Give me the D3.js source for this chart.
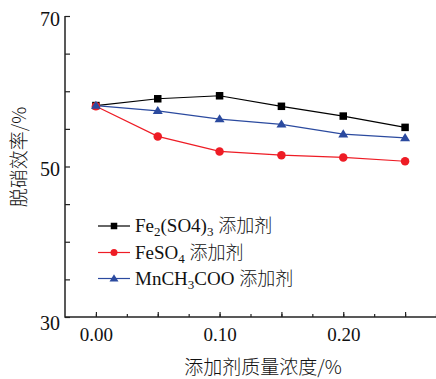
<!DOCTYPE html>
<html><head><meta charset="utf-8">
<script src="https://cdn.jsdelivr.net/npm/d3@7"></script>
<style>
body{margin:0;background:#fff;}
svg{display:block;font-family:"Liberation Serif","Times New Roman","Noto Sans CJK SC",serif;}
.cjk{font-family:"Noto Sans CJK SC",sans-serif;font-weight:300;}
</style></head>
<body><svg id="c" width="436" height="379"></svg>
<script>
const xValues = [0, 0.05, 0.10, 0.15, 0.20, 0.25];
const fe2so43 = [58.1, 59.0, 59.4, 58.0, 56.7, 55.2];
const feso4   = [58.0, 54.0, 52.0, 51.5, 51.2, 50.7];
const mnch3coo= [58.1, 57.4, 56.3, 55.6, 54.3, 53.8];
const xTickLabels = [0, 0.10, 0.20];
const yTickLabels = [30, 50, 70];
const xTitle = "添加剂质量浓度/%";
const yTitle = "脱硝效率/%";

const svg = d3.select("#c");
const x = d3.scaleLinear().domain([-0.025, 0.275]).range([65, 436]);
const y = d3.scaleLinear().domain([30, 70]).range([317, 16]);
const axisColor = "#222";

// x minor ticks
const xMinor = svg.append("g").attr("transform", "translate(0,317)")
  .call(d3.axisBottom(x).tickValues(d3.range(0, 0.2751, 0.025)).tickSize(-3).tickFormat(""));
const xMajor = svg.append("g").attr("transform", "translate(0,317)")
  .call(d3.axisBottom(x).tickValues(d3.range(0, 0.2501, 0.05)).tickSize(-5).tickPadding(11)
    .tickFormat(d => xTickLabels.some(v => Math.abs(v - d) < 1e-9) ? d3.format(".2f")(d) : ""));
[xMinor, xMajor].forEach(g => {
  g.select(".domain").remove();
  g.selectAll("line").attr("stroke", axisColor).attr("stroke-width", 1.2);
});
xMajor.selectAll("text").attr("font-size", 19).attr("fill", "#111")
  .attr("font-family", "Liberation Serif");

// y ticks
const yAx = svg.append("g").attr("transform", "translate(65,0)")
  .call(d3.axisLeft(y).tickValues(d3.range(30, 70.1, 5)).tickSize(-5).tickPadding(5)
    .tickFormat(d => yTickLabels.includes(d) ? d : ""));
yAx.select(".domain").remove();
yAx.selectAll("line").attr("stroke", axisColor).attr("stroke-width", 1.2);
yAx.selectAll("text").attr("font-size", 20).attr("fill", "#111")
  .attr("dy", d => d === 30 ? "0.6em" : "0.45em")
  .attr("font-family", "Liberation Serif");

// axis lines
svg.append("line").attr("x1", 65).attr("x2", 65).attr("y1", y(70)).attr("y2", y(30) + 0.7)
  .attr("stroke", axisColor).attr("stroke-width", 1.5);
svg.append("line").attr("x1", 65).attr("x2", 436).attr("y1", y(30)).attr("y2", y(30))
  .attr("stroke", axisColor).attr("stroke-width", 1.5);

// titles
svg.append("text").attr("class", "cjk").attr("x", 263).attr("y", 374).attr("text-anchor", "middle")
  .attr("font-size", 19).attr("fill", "#111").text(xTitle);
svg.append("text").attr("class", "cjk").attr("transform", "translate(26,157) rotate(-90)").attr("text-anchor", "middle")
  .attr("font-size", 19).attr("fill", "#111").text(yTitle);

const series = [
  {vals: fe2so43, color: "#000000", shape: "square"},
  {vals: feso4, color: "#ee1c25", shape: "circle"},
  {vals: mnch3coo, color: "#2b4a9f", shape: "triangle"}
];
const line = d3.line().x((d, i) => x(xValues[i])).y(d => y(d));

function marker(g, shape, cx, cy, s, color) {
  if (shape === "square") {
    g.append("rect").attr("x", cx - s / 2).attr("y", cy - s / 2).attr("width", s).attr("height", s).attr("fill", color);
  } else if (shape === "circle") {
    g.append("circle").attr("cx", cx).attr("cy", cy).attr("r", s / 2).attr("fill", color);
  } else {
    const h = s * 0.9;
    g.append("path").attr("d", `M${cx},${cy - h * 0.6} L${cx + s / 2 + 0.5},${cy + h * 0.4} L${cx - s / 2 - 0.5},${cy + h * 0.4} Z`).attr("fill", color);
  }
}

series.forEach(s => {
  svg.append("path").attr("d", line(s.vals)).attr("fill", "none").attr("stroke", s.color).attr("stroke-width", 1.2);
});
series.forEach(s => {
  const g = svg.append("g");
  s.vals.forEach((v, i) => marker(g, s.shape, x(xValues[i]), y(v), s.shape === "triangle" ? 9 : (s.shape === "circle" ? 8.5 : 7.5), s.color));
});

// legend
const legendRows = [
  [["Fe", 0], ["2", 1], ["(SO4)", 0], ["3", 1], [" ", 0], ["添加剂", 2]],
  [["FeSO", 0], ["4", 1], [" ", 0], ["添加剂", 2]],
  [["MnCH", 0], ["3", 1], ["COO ", 0], ["添加剂", 2]]
];
const legendY = [226, 252.5, 278.5];
series.forEach((s, i) => {
  const ly = legendY[i];
  svg.append("line").attr("x1", 98).attr("x2", 130).attr("y1", ly).attr("y2", ly)
    .attr("stroke", s.color).attr("stroke-width", 1.2);
  marker(svg, s.shape, 114, ly, s.shape === "triangle" ? 8 : (s.shape === "circle" ? 7 : 6.5), s.color);
  const t = svg.append("text").attr("x", 135).attr("y", ly + 6).attr("font-size", 19).attr("fill", "#111");
  let wasSub = false;
  legendRows[i].forEach(([str, kind]) => {
    const ts = t.append("tspan").text(str);
    if (kind === 1) { ts.attr("font-size", 13).attr("dy", 4); wasSub = true; }
    else {
      if (wasSub) ts.attr("dy", -4);
      wasSub = false;
      if (kind === 2) ts.attr("class", "cjk").attr("font-size", 18);
    }
  });
});
</script></body></html>
